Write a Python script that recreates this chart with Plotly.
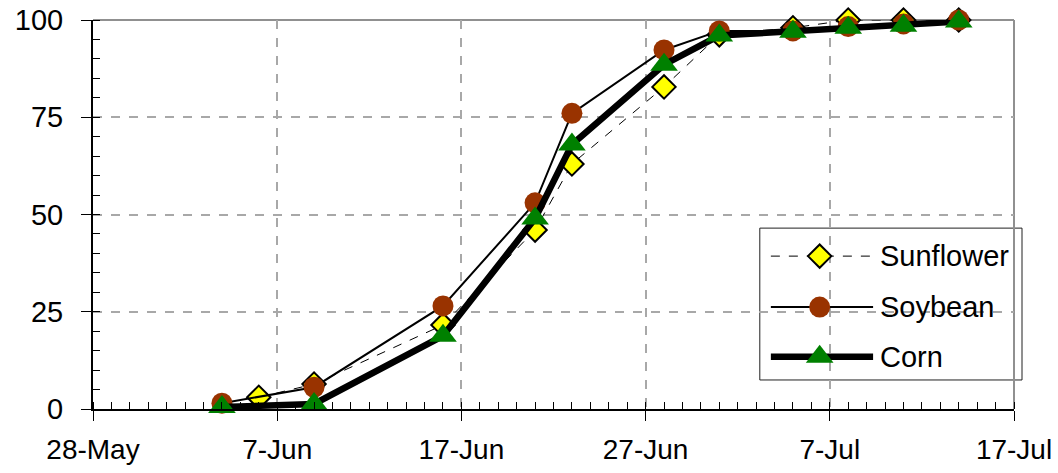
import plotly.graph_objects as go

# Observation dates and cumulative percentages for each crop
dates_soy = ["2008-06-04", "2008-06-09", "2008-06-16", "2008-06-21", "2008-06-23",
             "2008-06-28", "2008-07-01", "2008-07-05", "2008-07-08", "2008-07-11", "2008-07-14"]
soybean = [1.5, 5.6, 26.5, 53, 76, 92.3, 97.2, 97.2, 98.3, 99.0, 100]

dates_sun = ["2008-06-06", "2008-06-09", "2008-06-16", "2008-06-21", "2008-06-23",
             "2008-06-28", "2008-07-01", "2008-07-05", "2008-07-08", "2008-07-11", "2008-07-14"]
sunflower = [3.0, 6.4, 21.6, 46, 63, 82.8, 96.2, 98.0, 100, 100, 100]

dates_corn = ["2008-06-04", "2008-06-09", "2008-06-16", "2008-06-21", "2008-06-23",
              "2008-06-28", "2008-07-01", "2008-07-05", "2008-07-08", "2008-07-11", "2008-07-14"]
corn = [0.5, 1.3, 18.8, 49, 68, 88.5, 96.0, 97.0, 98.0, 98.5, 99.6]

x_range = ["2008-05-28", "2008-07-17"]
y_ticks = [0, 25, 50, 75, 100]

# series styling (shared by the plotted series and the legend box)
styles = {
    "Sunflower": dict(line=dict(color="black", width=1, dash="dash"),
                      marker=dict(symbol="diamond", size=18, color="#FFFF00",
                                  line=dict(color="black", width=2))),
    "Soybean": dict(line=dict(color="black", width=2),
                    marker=dict(symbol="circle", size=21, color="#993300", line=dict(width=0))),
    "Corn": dict(line=dict(color="black", width=6.5),
                 marker=dict(symbol="triangle-up", size=24, color="#008000", line=dict(width=0))),
}
series = [("Sunflower", dates_sun, sunflower),
          ("Soybean", dates_soy, soybean),
          ("Corn", dates_corn, corn)]

fig = go.Figure()

for name, xs, ys in series:
    fig.add_trace(go.Scatter(x=xs, y=ys, name=name, mode="lines+markers",
                             cliponaxis=False, showlegend=False, **styles[name]))

# legend box drawn on an overlay axis spanning the plot area (0..1 both ways)
leg_x0, leg_x1 = 0.736, 0.847
leg_mid = 0.789
leg_text_x = 0.852
leg_rows = [("Sunflower", 0.393), ("Soybean", 0.262), ("Corn", 0.134)]
for name, yrow in leg_rows:
    st = styles[name]
    fig.add_trace(go.Scatter(x=[leg_x0, leg_x1], y=[yrow, yrow], mode="lines",
                             line=st["line"], xaxis="x2", yaxis="y2",
                             showlegend=False, hoverinfo="skip", cliponaxis=False))
    fig.add_trace(go.Scatter(x=[leg_mid], y=[yrow], mode="markers",
                             marker=st["marker"], xaxis="x2", yaxis="y2",
                             showlegend=False, hoverinfo="skip", cliponaxis=False))
    fig.add_annotation(x=leg_text_x, y=yrow, xref="x2", yref="y2", text=name,
                       showarrow=False, xanchor="left", yanchor="middle",
                       font=dict(size=29, color="black"))

fig.add_shape(type="rect", xref="paper", yref="paper", x0=0.724, x1=1.0087,
              y0=0.0746, y1=0.465, line=dict(color="#202020", width=1),
              fillcolor="white", layer="between")

# grey frame on the top and right sides of the plot area
fig.add_shape(type="line", xref="paper", yref="paper", x0=0, x1=1, y0=1, y1=1,
              line=dict(color="#909090", width=2), layer="below")
fig.add_shape(type="line", xref="paper", yref="paper", x0=1, x1=1, y0=0, y1=1,
              line=dict(color="#909090", width=2), layer="below")

fig.update_layout(
    width=1058, height=473,
    margin=dict(l=93, r=44, t=20, b=64),
    paper_bgcolor="white", plot_bgcolor="white",
    font=dict(family="Liberation Sans, Arial, sans-serif", size=28, color="black"),
    showlegend=False,
    xaxis=dict(
        type="date", range=x_range, automargin=False,
        tickmode="linear", tick0="2008-05-28", dtick=10 * 86400000,
        tickformat="%-d-%b",
        ticks="outside", ticklen=10, tickwidth=1, tickcolor="black",
        showline=True, linecolor="black", linewidth=2,
        showgrid=True, gridcolor="#A8A8A8", griddash="dash", gridwidth=1.5,
        zeroline=False,
        minor=dict(ticks="inside", ticklen=7, tickcolor="black", tickwidth=1,
                   dtick=86400000, showgrid=False),
        ticklabelstandoff=4,
    ),
    yaxis=dict(
        range=[0, 100], tickvals=y_ticks, automargin=False,
        ticks="outside", ticklen=10, tickwidth=1, tickcolor="black",
        showline=True, linecolor="black", linewidth=2,
        showgrid=True, gridcolor="#A8A8A8", griddash="dash", gridwidth=1.5,
        zeroline=False,
        minor=dict(ticks="inside", ticklen=7, tickcolor="black", tickwidth=1,
                   dtick=5, showgrid=False),
        ticklabelstandoff=12, tickfont=dict(size=29),
    ),
    xaxis2=dict(range=[0, 1], overlaying="x", visible=False, fixedrange=True),
    yaxis2=dict(range=[0, 1], overlaying="y", visible=False, fixedrange=True),
)

fig.write_html("out.html")
